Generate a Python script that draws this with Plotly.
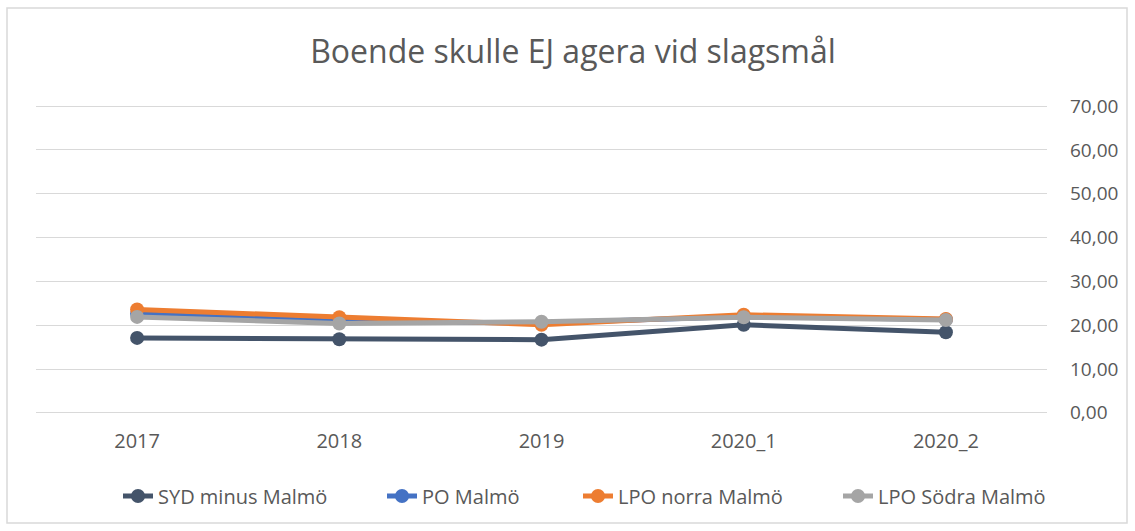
import plotly.graph_objects as go

categories = ["2017", "2018", "2019", "2020_1", "2020_2"]
syd_minus_malmo = [17.1, 16.8, 16.7, 20.1, 18.4]
po_malmo = [22.6, 20.9, 20.5, 22.0, 21.3]
lpo_norra = [23.6, 21.8, 20.1, 22.4, 21.4]
lpo_sodra = [21.9, 20.4, 20.8, 21.8, 21.2]
y_ticks = [0, 10, 20, 30, 40, 50, 60, 70]

series = [
    ("SYD minus Malmö", syd_minus_malmo, "#44546A", 219),
    ("PO Malmö", po_malmo, "#4472C4", 151),
    ("LPO norra Malmö", lpo_norra, "#ED7D31", 215),
    ("LPO Södra Malmö", lpo_sodra, "#A5A5A5", 190),
]

W, H = 1135, 531
L, R, T, B = 36, 1047, 104, 415
pw, ph = R - L, B - T

fig = go.Figure()
for name, vals, col, lw in series:
    fig.add_trace(go.Scatter(
        x=categories, y=vals, name=name, mode="lines+markers",
        line=dict(color=col, width=5),
        marker=dict(color=col, size=14),
        legendwidth=lw,
    ))

fig.update_layout(
    width=W, height=H,
    margin=dict(l=L, r=W - R, t=T, b=H - B),
    paper_bgcolor="white", plot_bgcolor="white",
    separators=", ",
    font=dict(family="Open Sans", color="#595959", size=20),
    title=dict(text="Boende skulle EJ agera vid slagsmål", x=573 / W, xanchor="center",
               y=1 - 52 / H, yanchor="middle",
               font=dict(size=32, color="#595959", family="Open Sans")),
    xaxis=dict(type="category", showgrid=False, showline=False, zeroline=False,
               ticks="", tickfont=dict(size=20, color="#595959"), range=[-0.5, 4.5],
               ticklabelstandoff=12),
    yaxis=dict(side="right", range=[-0.5, 70.5], tickvals=y_ticks, tickformat=".2f",
               showgrid=True, gridcolor="#D9D9D9", gridwidth=1.3, zeroline=False,
               showline=False, ticks="", ticklabelstandoff=22,
               tickfont=dict(size=19, color="#595959")),
    legend=dict(orientation="h", x=(118 - L) / pw, xanchor="left",
                y=(B - 496) / ph, yanchor="middle",
                font=dict(size=20, color="#595959")),
    shapes=[dict(type="rect", xref="paper", yref="paper",
                 x0=(7 - L) / pw, x1=(1127 - L) / pw,
                 y0=(B - 523) / ph, y1=(B - 8) / ph,
                 line=dict(color="#D9D9D9", width=1.5), fillcolor="rgba(0,0,0,0)", layer="below")],
)

fig.write_html("out.html", config={"displayModeBar": False},
               post_script="document.body.style.margin='0';")
